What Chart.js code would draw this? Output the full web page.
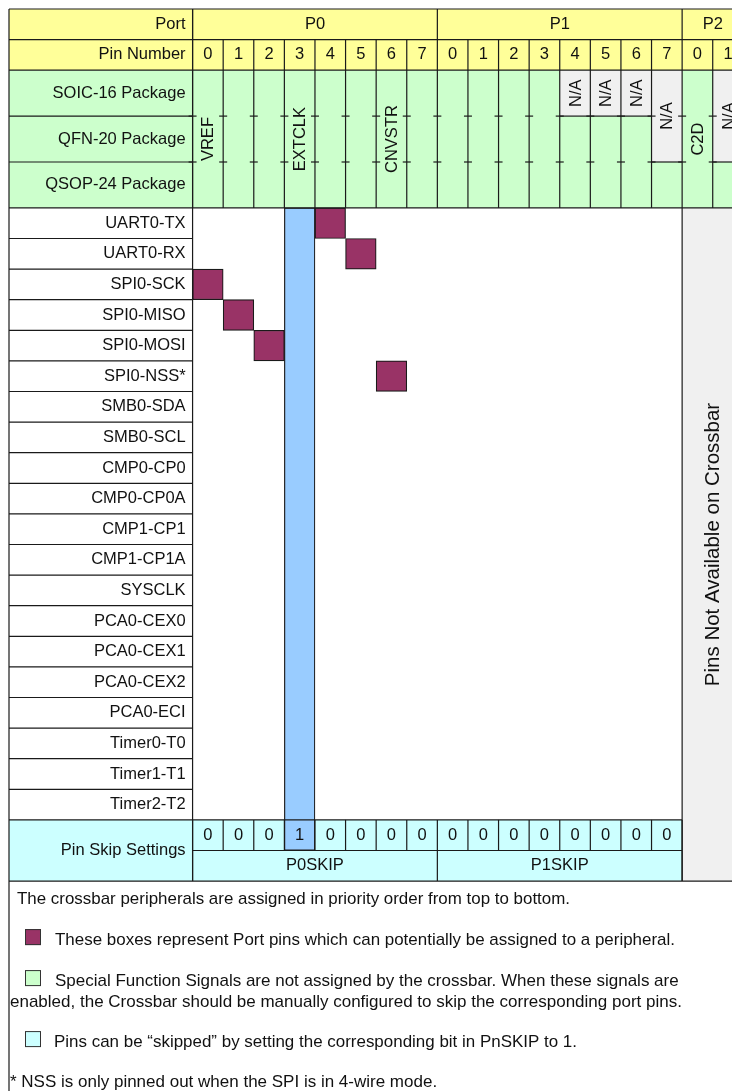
<!DOCTYPE html>
<html>
<head>
<meta charset="utf-8">
<script src="https://cdn.jsdelivr.net/npm/chart.js@4/dist/chart.umd.min.js"></script>
<style>
  html, body { margin: 0; padding: 0; background: #fff; }
  canvas { display: block; }
</style>
</head>
<body>
<canvas id="chart" width="732" height="1091"></canvas>
<script>
// --- data ---
const ports = ['P0', 'P1', 'P2'];
const pinsPerPort = [8, 8, 2];
const packages = ['SOIC-16 Package', 'QFN-20 Package', 'QSOP-24 Package'];
const peripherals = [
  'UART0-TX', 'UART0-RX', 'SPI0-SCK', 'SPI0-MISO', 'SPI0-MOSI', 'SPI0-NSS*',
  'SMB0-SDA', 'SMB0-SCL', 'CMP0-CP0', 'CMP0-CP0A', 'CMP1-CP1', 'CMP1-CP1A',
  'SYSCLK', 'PCA0-CEX0', 'PCA0-CEX1', 'PCA0-CEX2', 'PCA0-ECI',
  'Timer0-T0', 'Timer1-T1', 'Timer2-T2'
];
// [peripheral index, pin column]
const assignable = [[0, 4], [1, 5], [2, 0], [3, 1], [4, 2], [5, 6]];
const skipBits = [0, 0, 0, 1, 0, 0, 0, 0, 0, 0, 0, 0, 0, 0, 0, 0];
const skipRegisters = ['P0SKIP', 'P1SKIP'];
// [pin column, signal name]
const specialSignals = [[0, 'VREF'], [3, 'EXTCLK'], [6, 'CNVSTR'], [16, 'C2D']];
// [pin column, number of packages (from the top) without that pin]
const missingPins = [[12, 1], [13, 1], [14, 1], [15, 2], [17, 2]];
const crossbarPins = 16;

// --- layout in table units ---
const labelCols = 6;
const pkgTop = 2;
const pkgRow = 1.5;
const periTop = pkgTop + packages.length * pkgRow;
const skipTop = periTop + peripherals.length;
const tableBottom = skipTop + 2;
const totalCols = pinsPerPort.reduce((a, b) => a + b, 0);
const portEdges = pinsPerPort.reduce((acc, n) => { acc.push(acc[acc.length - 1] + n); return acc; }, [0]);

const COLORS = {
  yellow: '#ffff99',
  green: '#ccffcc',
  cyan: '#ccffff',
  blue: '#99ccff',
  magenta: '#993366',
  gray: '#f0f0f0',
  line: '#1a1a1a',
  text: '#111'
};
const FAMILY = '"Liberation Sans", Arial, sans-serif';

const crossbarPlugin = {
  id: 'crossbar',
  beforeDraw(chart) {
    const c = chart.ctx;
    c.save();
    c.fillStyle = '#fff';
    c.fillRect(0, 0, chart.width, chart.height);
    c.restore();
  },
  beforeDatasetsDraw(chart) {
    const c = chart.ctx;
    const xs = chart.scales.x, ys = chart.scales.y;
    const rect = (x0, x1, y0, y1, color) => {
      const a = xs.getPixelForValue(x0), b = xs.getPixelForValue(x1);
      const t = ys.getPixelForValue(y0), u = ys.getPixelForValue(y1);
      c.fillStyle = color;
      c.fillRect(a, t, b - a, u - t);
    };
    c.save();
    rect(-labelCols, totalCols, 0, pkgTop, COLORS.yellow);
    rect(-labelCols, totalCols, pkgTop, periTop, COLORS.green);
    missingPins.forEach(([col, n]) => rect(col, col + 1, pkgTop, pkgTop + n * pkgRow, COLORS.gray));
    rect(crossbarPins, totalCols, periTop, tableBottom, COLORS.gray);
    rect(-labelCols, crossbarPins, skipTop, tableBottom, COLORS.cyan);
    c.restore();
  },
  afterDatasetsDraw(chart) {
    const c = chart.ctx;
    const xs = chart.scales.x, ys = chart.scales.y;
    const px = v => xs.getPixelForValue(v);
    const py = v => ys.getPixelForValue(v);
    const hline = (y, x0, x1) => { c.beginPath(); c.moveTo(px(x0), py(y)); c.lineTo(px(x1), py(y)); c.stroke(); };
    const vline = (x, y0, y1) => { c.beginPath(); c.moveTo(px(x), py(y0)); c.lineTo(px(x), py(y1)); c.stroke(); };
    const tick = (x, y) => { c.beginPath(); c.moveTo(px(x) - 4, py(y)); c.lineTo(px(x) + 4, py(y)); c.stroke(); };

    c.save();
    c.strokeStyle = COLORS.line;
    c.lineWidth = 1.2;

    // outer frame
    hline(0, -labelCols, totalCols);
    vline(-labelCols, 0, ys.max);
    // header rows
    hline(1, -labelCols, totalCols);
    hline(pkgTop, -labelCols, totalCols);
    portEdges.forEach(e => vline(e, 0, 1));
    for (let i = 0; i <= totalCols; i++) vline(i, 1, periTop);
    vline(0, 0, tableBottom);
    // package rows
    for (let p = 1; p < packages.length; p++) {
      const y = pkgTop + p * pkgRow;
      hline(y, -labelCols, 0);
      for (let i = 0; i <= totalCols; i++) tick(i, y);
    }
    missingPins.forEach(([col, n]) => hline(pkgTop + n * pkgRow, col, col + 1));
    hline(periTop, -labelCols, totalCols);
    // peripheral rows
    for (let r = 1; r < peripherals.length; r++) hline(periTop + r, -labelCols, 0);
    hline(skipTop, -labelCols, crossbarPins);
    vline(crossbarPins, periTop, tableBottom);
    // skip rows
    for (let i = 0; i <= crossbarPins; i++) vline(i, skipTop, skipTop + 1);
    hline(skipTop + 1, 0, crossbarPins);
    portEdges.filter(e => e <= crossbarPins).forEach(e => vline(e, skipTop + 1, tableBottom));
    hline(tableBottom, -labelCols, totalCols);

    // text
    c.fillStyle = COLORS.text;
    c.font = '16.5px ' + FAMILY;
    c.textBaseline = 'middle';
    const labelX = px(0) - 7;
    const rowLabel = (t, y) => { c.textAlign = 'right'; c.fillText(t, labelX, py(y)); };
    const center = (t, x, y) => { c.textAlign = 'center'; c.fillText(t, px(x), py(y)); };
    const vertical = (t, x, y) => {
      c.save();
      c.translate(px(x), py(y));
      c.rotate(-Math.PI / 2);
      c.textAlign = 'center';
      c.fillText(t, 0, 1);
      c.restore();
    };

    rowLabel('Port', 0.5);
    rowLabel('Pin Number', 1.5);
    packages.forEach((p, i) => rowLabel(p, pkgTop + (i + 0.5) * pkgRow));
    peripherals.forEach((p, i) => rowLabel(p, periTop + i + 0.5));
    rowLabel('Pin Skip Settings', skipTop + 1);

    ports.forEach((p, i) => center(p, (portEdges[i] + portEdges[i + 1]) / 2, 0.5));
    pinsPerPort.forEach((n, i) => {
      for (let k = 0; k < n; k++) center(String(k), portEdges[i] + k + 0.5, 1.5);
    });
    specialSignals.forEach(([col, name]) => vertical(name, col + 0.5, (pkgTop + periTop) / 2));
    missingPins.forEach(([col, n]) => vertical('N/A', col + 0.5, pkgTop + n * pkgRow / 2));
    skipBits.forEach((b, i) => center(String(b), i + 0.5, skipTop + 0.5));
    skipRegisters.forEach((r, i) => center(r, (portEdges[i] + portEdges[i + 1]) / 2, skipTop + 1.5));

    c.font = '20.5px ' + FAMILY;
    vertical('Pins Not Available on Crossbar', (crossbarPins + totalCols) / 2, (periTop + tableBottom) / 2);

    // notes below the table
    const base = py(tableBottom);
    c.font = '17px ' + FAMILY;
    c.textAlign = 'left';
    c.textBaseline = 'alphabetic';
    const swatch = (color, top) => {
      c.fillStyle = color;
      c.fillRect(25, base + top, 16, 16);
      c.strokeStyle = '#333';
      c.lineWidth = 1;
      c.strokeRect(25.5, base + top + 0.5, 15, 15);
      c.fillStyle = COLORS.text;
    };
    const note = (t, x, y, w) => c.fillText(t, x, base + y, w);
    note('The crossbar peripherals are assigned in priority order from top to bottom.', 17, 23, 553);
    swatch(COLORS.magenta, 48);
    note('These boxes represent Port pins which can potentially be assigned to a peripheral.', 55, 64, 620);
    swatch(COLORS.green, 89);
    note('Special Function Signals are not assigned by the crossbar. When these signals are', 55, 104.5, 624);
    note('enabled, the Crossbar should be manually configured to skip the corresponding port pins.', 10, 125.5, 677);
    swatch(COLORS.cyan, 150);
    note('Pins can be \u201cskipped\u201d by setting the corresponding bit in PnSKIP to 1.', 54, 166, 523);
    note('* NSS is only pinned out when the SPI is in 4-wire mode.', 10, 206, 432);
    c.restore();
  }
};

const skipped = skipBits
  .map((b, i) => (b ? { x: i + 0.5, y: [periTop, skipTop + 1] } : null))
  .filter(Boolean);
const boxes = assignable.map(([r, col]) => ({ x: col + 0.5, y: [periTop + r, periTop + r + 1] }));

const ctx = document.getElementById('chart').getContext('2d');
new Chart(ctx, {
  type: 'bar',
  data: {
    datasets: [
      {
        label: 'Skipped pins',
        data: skipped,
        backgroundColor: COLORS.blue,
        borderColor: COLORS.line,
        borderWidth: 1.2,
        borderSkipped: false,
        grouped: false
      },
      {
        label: 'Assignable pins',
        data: boxes,
        backgroundColor: COLORS.magenta,
        borderColor: COLORS.line,
        borderWidth: 1.2,
        borderSkipped: false,
        grouped: false
      }
    ]
  },
  options: {
    responsive: false,
    animation: false,
    events: [],
    layout: { padding: { left: 9, top: 9, right: 0, bottom: 0 } },
    datasets: { bar: { barPercentage: 1, categoryPercentage: 1 } },
    plugins: { legend: { display: false }, tooltip: { enabled: false } },
    scales: {
      x: {
        type: 'linear', display: false, offset: false,
        min: -labelCols, max: 17.63,
        ticks: { stepSize: 1, includeBounds: false }
      },
      y: {
        type: 'linear', display: false, reverse: true,
        min: 0, max: 35.36,
        ticks: { stepSize: 1, includeBounds: false }
      }
    }
  },
  plugins: [crossbarPlugin]
});
</script>
</body>
</html>
